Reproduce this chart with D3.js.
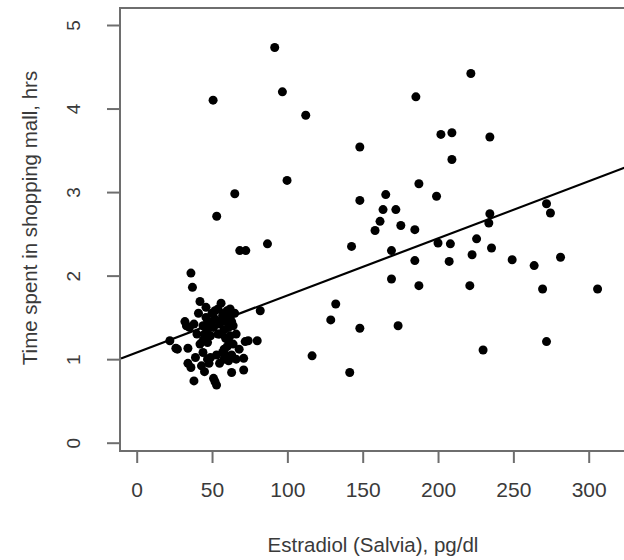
<!DOCTYPE html>
<html>
<head>
<meta charset="utf-8">
<script src="https://cdn.jsdelivr.net/npm/d3@7"></script>
<style>
  html, body { margin: 0; padding: 0; background: #fff; }
  svg { display: block; }
  text { font-family: "Liberation Sans", Arial, sans-serif; fill: #3a3a3a; }
</style>
</head>
<body>
<svg id="chart" width="624" height="560"></svg>
<script>
// ---- data ----
const estradiol = [
  22, 26, 27, 32, 33, 34, 34, 35, 36, 36, 37, 38, 38, 39, 40, 41, 42, 42, 43, 44,
  44, 45, 45, 46, 46, 47, 47, 48, 48, 49, 50, 47, 51, 51, 52, 52, 53, 53, 54, 54,
  55, 55, 56, 57, 57, 58, 58, 59, 59, 60, 60, 61, 61, 62, 62, 63, 63, 64, 64, 65,
  66, 66, 68, 71, 71, 72, 74, 80, 82, 58,
  44, 47, 52, 56, 58, 61, 63, 49, 59, 62, 45, 55,
  91.6, 50.7, 96.7, 112.2, 99.8, 65.1, 53.1, 68.4, 72.4, 86.8,
  221.8, 185.3, 148.1, 201.9, 209.2, 234.4, 209.2, 187.3, 148.1, 165.3,
  199.0, 163.5, 172.0, 161.5, 158.2, 175.3, 184.6, 142.6, 169.1, 200.0,
  208.2, 225.6, 234.4, 233.7, 235.5, 272.0, 274.6, 184.6, 207.4, 222.6,
  249.2, 263.8, 281.3, 169.1, 187.3, 221.1, 269.4, 305.9, 132.1, 128.8,
  148.1, 173.5, 116.4, 141.4, 229.9, 272.0
];
const hoursInMall = [
  1.22, 1.13, 1.12, 1.45, 1.40, 1.13, 0.95, 1.38, 0.90, 2.03, 1.86, 0.74, 1.42, 1.02, 1.30, 1.55, 1.69, 1.18, 0.92, 1.40,
  1.08, 0.85, 1.25, 1.50, 1.62, 1.00, 1.35, 0.95, 1.45, 1.28, 1.55, 1.20, 0.77, 1.38, 0.73, 1.48, 0.69, 1.05, 1.60, 1.30,
  1.42, 0.95, 1.67, 1.52, 1.08, 1.35, 1.00, 1.45, 1.25, 1.58, 1.15, 1.38, 0.98, 1.50, 1.28, 0.84, 1.05, 1.40, 1.18, 1.55,
  1.30, 1.00, 1.12, 0.87, 1.01, 1.21, 1.22, 1.22, 1.58, 1.12,
  1.22, 1.44, 1.58, 1.45, 1.55, 1.22, 1.45, 1.02, 1.05, 1.60, 1.30, 1.30,
  4.73, 4.10, 4.20, 3.92, 3.14, 2.98, 2.71, 2.30, 2.30, 2.38,
  4.42, 4.14, 3.54, 3.69, 3.71, 3.66, 3.39, 3.10, 2.90, 2.97,
  2.95, 2.79, 2.79, 2.65, 2.54, 2.60, 2.55, 2.35, 2.30, 2.39,
  2.38, 2.44, 2.74, 2.63, 2.33, 2.86, 2.75, 2.18, 2.17, 2.25,
  2.19, 2.12, 2.22, 1.96, 1.88, 1.88, 1.84, 1.84, 1.66, 1.47,
  1.37, 1.40, 1.04, 0.84, 1.11, 1.21
];
const xTicks = [0, 50, 100, 150, 200, 250, 300];
const yTicks = [0, 1, 2, 3, 4, 5];
const fitIntercept = 1.08;
const fitSlope = 0.00683;
const xTitle = "Estradiol (Salvia), pg/dl";
const yTitle = "Time spent in shopping mall, hrs";

// ---- layout ----
const box = { left: 120, top: 8, right: 626, bottom: 451 };
const svg = d3.select("#chart");

const x = d3.scaleLinear().domain([0, 300]).range([136.7, 588.7]);
const y = d3.scaleLinear().domain([0, 5]).range([442.7, 25]);

const axisColor = "#6e6e6e";

// x axis
const gx = svg.append("g")
  .attr("transform", `translate(0,${box.bottom})`)
  .call(d3.axisBottom(x).tickValues(xTicks).tickSize(12).tickFormat(d3.format("d")));
gx.select(".domain").remove();
gx.selectAll(".tick line").attr("stroke", axisColor).attr("stroke-width", 2);
gx.selectAll(".tick text")
  .attr("y", 46).attr("dy", null)
  .style("font-size", "21px").attr("fill", "#3a3a3a");

// y axis
const gy = svg.append("g")
  .attr("transform", `translate(${box.left},0)`)
  .call(d3.axisLeft(y).tickValues(yTicks).tickSize(13).tickFormat(d3.format("d")));
gy.select(".domain").remove();
gy.selectAll(".tick line").attr("stroke", axisColor).attr("stroke-width", 2);
gy.selectAll(".tick text")
  .attr("x", null).attr("dy", null)
  .attr("transform", "translate(-40,0) rotate(-90)")
  .attr("text-anchor", "middle")
  .style("font-size", "19px").attr("fill", "#3a3a3a");

// plot box
svg.append("rect")
  .attr("x", box.left).attr("y", box.top)
  .attr("width", box.right - box.left).attr("height", box.bottom - box.top)
  .attr("fill", "none").attr("stroke", axisColor).attr("stroke-width", 2);

// points
const pts = estradiol.map((v, i) => ({ x: v, y: hoursInMall[i] }));
svg.append("g").selectAll("circle").data(pts).join("circle")
  .attr("cx", d => x(d.x)).attr("cy", d => y(d.y))
  .attr("r", 4.5).attr("fill", "#000");

// regression line across the full plot width
const x0 = x.invert(box.left + 1), x1 = x.invert(box.right);
svg.append("line")
  .attr("x1", x(x0)).attr("y1", y(fitIntercept + fitSlope * x0))
  .attr("x2", x(x1)).attr("y2", y(fitIntercept + fitSlope * x1))
  .attr("stroke", "#000").attr("stroke-width", 2.2);

// titles
svg.append("text")
  .attr("x", (box.left + box.right) / 2).attr("y", 552)
  .attr("text-anchor", "middle").style("font-size", "20.5px")
  .text(xTitle);
svg.append("text")
  .attr("transform", `translate(36.5,${218}) rotate(-90)`)
  .attr("text-anchor", "middle").style("font-size", "20.5px")
  .text(yTitle);
</script>
</body>
</html>
